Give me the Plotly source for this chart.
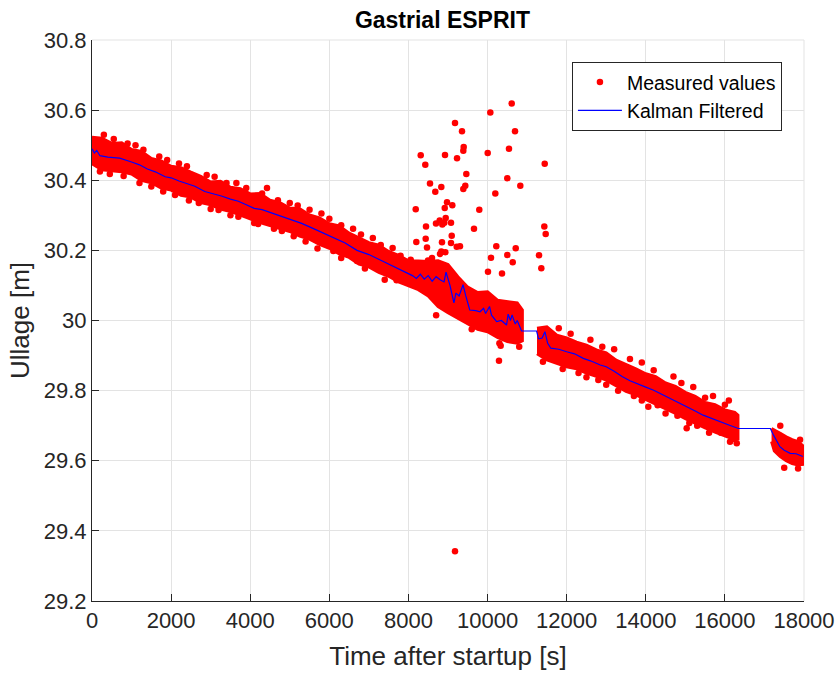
import plotly.graph_objects as go

# Kalman filtered estimate (time [s], ullage [m])
kalman_t = [0, 60, 120, 200, 400, 700, 1000, 1200, 1400, 1600, 1850, 2000, 2200, 2450, 2600, 2850,
            3050, 3270, 3500, 3700, 3900, 4100, 4300, 4450, 4700, 5000, 5300, 5600, 5900, 6150,
            6400, 6700, 7000, 7300, 7650, 7900, 8100, 8200, 8300, 8400, 8500, 8600, 8700, 8800,
            8900, 8950, 9050, 9150, 9200, 9280, 9380, 9450, 9550, 9700, 9810, 9900, 9950, 10050,
            10100, 10230, 10350, 10480, 10520, 10580, 10620, 10700, 10750, 10860, 11240, 11290,
            11380, 11450, 11520, 11600, 11800, 12000, 12200, 12420, 12600, 12850, 13000, 13200,
            13400, 13600, 13800, 14000, 14200, 14400, 14600, 14800, 15050, 15250, 15450, 15650,
            15880, 16100, 16340, 17150, 17230, 17390, 17500, 17650, 17800, 17970]
kalman_v = [30.490, 30.478, 30.485, 30.470, 30.466, 30.463, 30.452, 30.444, 30.432, 30.424, 30.410,
            30.407, 30.398, 30.390, 30.383, 30.368, 30.362, 30.355, 30.346, 30.340, 30.330, 30.320,
            30.316, 30.310, 30.300, 30.288, 30.277, 30.262, 30.246, 30.232, 30.221, 30.200, 30.188,
            30.172, 30.152, 30.140, 30.128, 30.120, 30.132, 30.118, 30.128, 30.112, 30.125, 30.116,
            30.110, 30.138, 30.100, 30.050, 30.078, 30.070, 30.102, 30.070, 30.030, 30.028, 30.025,
            30.035, 30.020, 30.040, 30.015, 29.997, 30.000, 29.987, 30.018, 30.000, 30.016, 29.990,
            30.000, 29.970, 29.970, 29.948, 29.950, 29.968, 29.935, 29.921, 29.918, 29.911, 29.905,
            29.892, 29.885, 29.873, 29.868, 29.855, 29.840, 29.828, 29.820, 29.810, 29.801, 29.790,
            29.778, 29.768, 29.755, 29.742, 29.730, 29.722, 29.711, 29.702, 29.692, 29.692, 29.673,
            29.640, 29.630, 29.621, 29.620, 29.612]

# Dense measurement band: upper / lower envelope per segment
band1_t = [0, 250, 500, 750, 1000, 1250, 1500, 1750, 2000, 2250, 2500, 2750, 3000, 3250, 3500,
           3750, 4000, 4250, 4500, 4750, 5000, 5250, 5500, 5750, 6000, 6250, 6500, 6750, 7000,
           7250, 7500, 7750, 8000, 8250, 8500, 8750, 9000, 9250, 9500, 9750, 10000, 10250, 10500,
           10750, 10880]
band1_hi = [30.523, 30.520, 30.505, 30.507, 30.488, 30.482, 30.462, 30.455, 30.440, 30.436, 30.423,
            30.411, 30.395, 30.397, 30.380, 30.376, 30.361, 30.362, 30.343, 30.336, 30.321, 30.319,
            30.301, 30.293, 30.276, 30.270, 30.249, 30.235, 30.222, 30.215, 30.197, 30.186, 30.170,
            30.170, 30.168, 30.170, 30.160, 30.125, 30.095, 30.080, 30.082, 30.058, 30.055, 30.050,
            30.030]
band1_lo = [30.447, 30.430, 30.428, 30.424, 30.418, 30.400, 30.393, 30.378, 30.372, 30.357, 30.352,
            30.336, 30.330, 30.318, 30.311, 30.300, 30.290, 30.279, 30.272, 30.262, 30.254, 30.241,
            30.232, 30.217, 30.206, 30.190, 30.180, 30.161, 30.153, 30.137, 30.126, 30.110, 30.100,
            30.088, 30.070, 30.040, 30.022, 30.005, 29.990, 29.975, 29.968, 29.952, 29.940, 29.935,
            29.942]

band2_t = [11250, 11500, 11750, 12000, 12250, 12500, 12750, 13000, 13250, 13500, 13750, 14000,
           14250, 14500, 14750, 15000, 15250, 15500, 15750, 16000, 16250, 16330]
band2_hi = [29.978, 29.982, 29.958, 29.950, 29.938, 29.930, 29.916, 29.908, 29.887, 29.875, 29.862,
            29.848, 29.840, 29.822, 29.812, 29.795, 29.784, 29.766, 29.760, 29.745, 29.738, 29.730]
band2_lo = [29.905, 29.888, 29.878, 29.868, 29.862, 29.850, 29.841, 29.830, 29.815, 29.798, 29.788,
            29.775, 29.762, 29.748, 29.735, 29.720, 29.706, 29.694, 29.682, 29.670, 29.660, 29.662]

band3_t = [17180, 17250, 17400, 17550, 17700, 17850, 18000]
band3_hi = [29.692, 29.688, 29.678, 29.668, 29.660, 29.655, 29.640]
band3_lo = [29.655, 29.628, 29.612, 29.600, 29.592, 29.588, 29.590]

# Individual measured points (outliers and strays at the band edges)
meas_t = [10610, 10070, 9177, 9354, 10694, 9397, 9387, 10542, 8310, 8924, 9228, 10004, 11445, 8426,
          9463, 10499, 8545, 8831, 8679, 9437, 9387, 10828, 10196, 8975, 9109, 8917, 8184, 9791,
          8942, 8790, 8697, 8856, 8907, 9076, 8444, 9657, 11435, 11470, 9094, 8436, 8199, 8848,
          9076, 8469, 9220, 9303, 10221, 10712, 8831, 8932, 8798, 8596, 8494, 10087, 10499, 11301,
          10636, 8057, 11359, 10011, 10365, 10332, 10289, 9177,
          300, 900, 1300, 1700, 2400, 2900, 3400, 4300, 4424, 4700, 5200, 5800, 6300, 6800, 7300,
          7800, 200, 800, 1500, 2100, 2700, 3200, 3700, 4200, 4800, 5400, 6100, 6700, 7200, 7700,
          12300, 12800, 13300, 13900, 14300, 14800, 15300, 15900, 16200, 11800, 12600, 13200,
          13900, 14700, 15200, 15700, 16100, 17400, 17900, 17500, 17850, 15034, 16130, 14064,
          550, 1100, 1900, 2200, 3100, 3650, 3900, 5000, 5500, 6000, 6600, 7100, 7600, 12100,
          12900, 13600, 14200, 14900, 15500, 16000,
          450, 1200, 1800, 2450, 3000, 3500, 4100, 4600, 5100, 5700, 6300, 6900, 7400, 8700, 9600,
          10300, 10800, 11400, 11900, 12500, 13000, 13700, 14500, 15100, 15600, 16300]
meas_v = [30.619, 30.593, 30.563, 30.540, 30.540, 30.495, 30.484, 30.490, 30.471, 30.472, 30.463,
          30.478, 30.447, 30.444, 30.418, 30.406, 30.391, 30.381, 30.367, 30.384, 30.375, 30.384,
          30.362, 30.337, 30.329, 30.321, 30.317, 30.316, 30.292, 30.285, 30.277, 30.274, 30.279,
          30.279, 30.268, 30.262, 30.268, 30.247, 30.242, 30.233, 30.224, 30.223, 30.221, 30.208,
          30.210, 30.212, 30.212, 30.206, 30.197, 30.195, 30.190, 30.178, 30.171, 30.179, 30.187,
          30.186, 30.166, 30.173, 30.149, 30.139, 30.134, 29.928, 29.885, 29.342,
          30.530, 30.505, 30.487, 30.468, 30.440, 30.415, 30.392, 30.362, 30.378, 30.343, 30.328,
          30.305, 30.272, 30.245, 30.215, 30.185, 30.425, 30.412, 30.382, 30.358, 30.335, 30.315,
          30.296, 30.275, 30.255, 30.225, 30.198, 30.170, 30.150, 30.115, 29.850, 29.830, 29.800,
          29.772, 29.758, 29.728, 29.700, 29.680, 29.662, 29.978, 29.945, 29.918, 29.880, 29.840,
          29.810, 29.785, 29.772, 29.700, 29.660, 29.580, 29.578, 29.693, 29.654, 29.754,
          30.518, 30.500, 30.458, 30.448, 30.410, 30.392, 30.378, 30.335, 30.316, 30.290, 30.262,
          30.235, 30.207, 29.962, 29.925, 29.890, 29.858, 29.822, 29.780, 29.760,
          30.418, 30.392, 30.368, 30.342, 30.318, 30.300, 30.278, 30.262, 30.240, 30.205, 30.178,
          30.148, 30.116, 30.015, 29.975, 29.935, 29.925, 29.882, 29.862, 29.838, 29.817, 29.785,
          29.735, 29.708, 29.680, 29.650]

x_ticks = [0, 2000, 4000, 6000, 8000, 10000, 12000, 14000, 16000, 18000]
x_tick_text = ["0", "2000", "4000", "6000", "8000", "10000", "12000", "14000", "16000", "18000"]
y_ticks = [29.2, 29.4, 29.6, 29.8, 30.0, 30.2, 30.4, 30.6, 30.8]
y_tick_text = ["29.2", "29.4", "29.6", "29.8", "30", "30.2", "30.4", "30.6", "30.8"]

RED = "#ff0000"
BLUE = "#0000ff"
FONT = "Liberation Sans, Arial, Helvetica, sans-serif"

fig = go.Figure()

for bt, bh, bl in [(band1_t, band1_hi, band1_lo), (band2_t, band2_hi, band2_lo),
                   (band3_t, band3_hi, band3_lo)]:
    fig.add_trace(go.Scatter(
        x=bt + bt[::-1], y=bh + bl[::-1], mode="lines", fill="toself",
        fillcolor=RED, line=dict(color=RED, width=3), showlegend=False, hoverinfo="skip"))

fig.add_trace(go.Scatter(
    x=meas_t, y=meas_v, mode="markers", name="Measured values",
    marker=dict(color=RED, size=6.5, line=dict(width=0))))

fig.add_trace(go.Scatter(
    x=kalman_t, y=kalman_v, mode="lines", name="Kalman Filtered",
    line=dict(color=BLUE, width=1.2)))

axis_common = dict(
    showgrid=True, gridcolor="#e3e3e3", gridwidth=1,
    showline=True, linecolor="#262626", linewidth=1,
    ticks="inside", ticklen=7, tickcolor="#262626",
    tickfont=dict(family=FONT, size=22, color="#262626"),
    zeroline=False, automargin=False,
)

fig.update_layout(
    width=837, height=676,
    margin=dict(l=92, r=33, t=40, b=75),
    paper_bgcolor="white", plot_bgcolor="white",
    font=dict(family=FONT, color="#262626"),
    title=dict(text="<b>Gastrial ESPRIT</b>", x=0.5286, xanchor="center", y=0.97, yanchor="middle",
               font=dict(family=FONT, size=23, color="black")),
    xaxis=dict(range=[0, 18000], tickvals=x_ticks, ticktext=x_tick_text,
               title=dict(text="Time after startup [s]", font=dict(family=FONT, size=26, color="#262626"),
                          standoff=14),
               **axis_common),
    yaxis=dict(range=[29.2, 30.8], tickvals=y_ticks, ticktext=y_tick_text,
               title=dict(text="Ullage [m]", font=dict(family=FONT, size=26, color="#262626"),
                          standoff=6),
               **axis_common),
    legend=dict(x=0.969, y=0.961, xanchor="right", yanchor="top",
                bgcolor="white", bordercolor="#262626", borderwidth=1,
                font=dict(family=FONT, size=19.5, color="black"),
                tracegroupgap=0, itemwidth=44),
    showlegend=True,
)

# light frame on top and right edges (grid-coloured, as in the original)
fig.add_shape(type="line", xref="paper", yref="paper", x0=0, x1=1, y0=1, y1=1,
              line=dict(color="#e3e3e3", width=1), layer="below")
fig.add_shape(type="line", xref="paper", yref="paper", x0=1, x1=1, y0=0, y1=1,
              line=dict(color="#e3e3e3", width=1), layer="below")

fig.write_html("out.html")
